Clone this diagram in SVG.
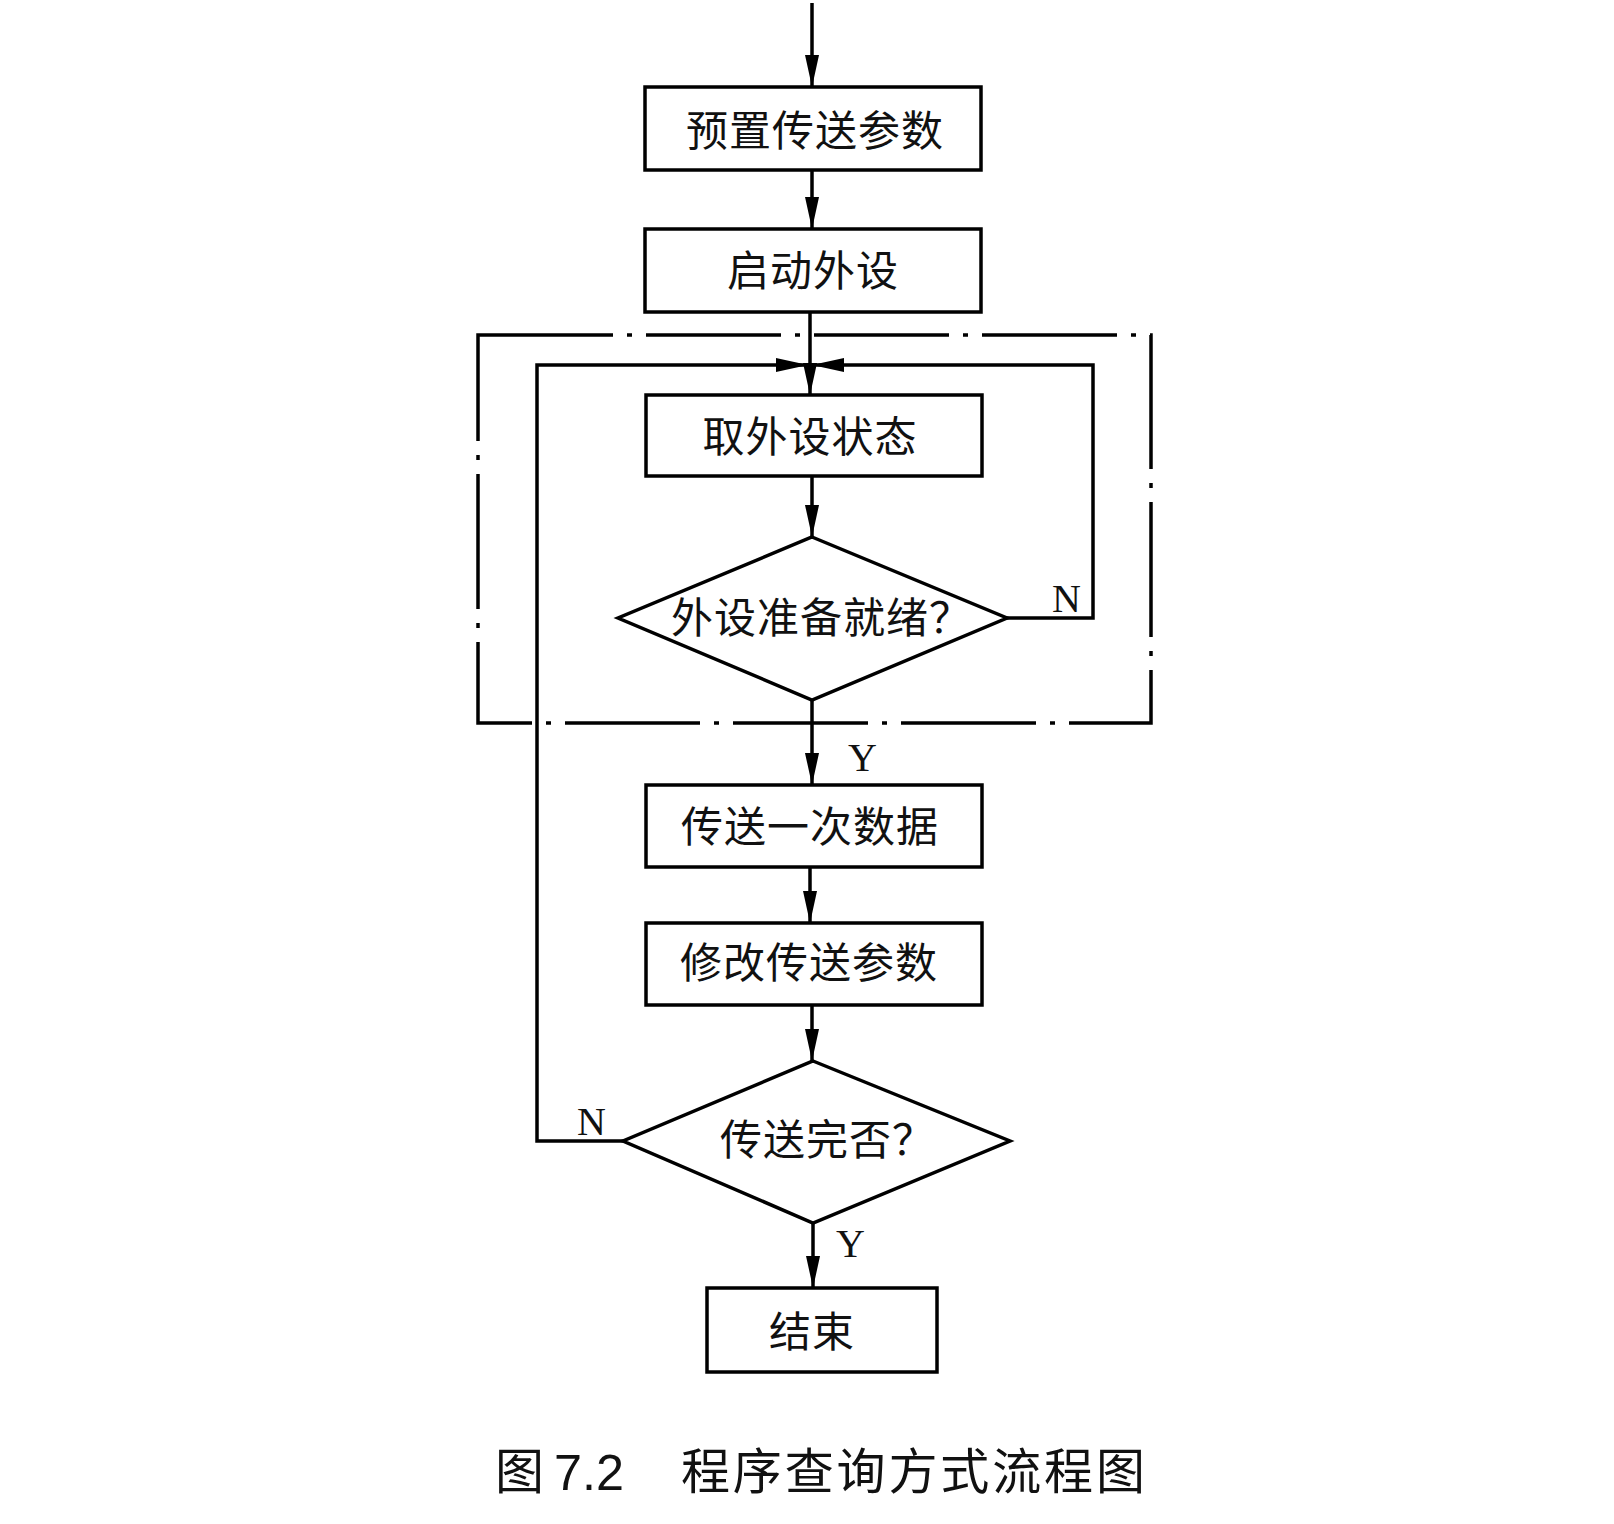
<svg xmlns="http://www.w3.org/2000/svg" width="1614" height="1524" viewBox="0 0 1614 1524">
<defs>
<marker id="ah" viewBox="0 0 32 14" refX="32" refY="7" markerWidth="32" markerHeight="14" markerUnits="userSpaceOnUse" orient="auto">
<path d="M0,0 L32,7 L0,14 Z" fill="#000"/>
</marker>
<style>
.box{fill:#fff;stroke:#000;stroke-width:3.5}
.ln{fill:none;stroke:#000;stroke-width:3.5}
.dd{fill:none;stroke:#000;stroke-width:3.5;stroke-dasharray:135 14 5 14}
.t{font-family:"Noto Sans CJK SC","Noto Sans CJK TC",sans-serif;font-size:42px;fill:#111;letter-spacing:1px}
.lbl{font-family:"Liberation Serif","DejaVu Serif",serif;font-size:40px;fill:#111}
.cap{font-family:"Noto Sans CJK SC",sans-serif;font-size:49px;fill:#111}
</style>
</defs>
<rect width="1614" height="1524" fill="#fff"/>

<g id="boundary">
<path class="dd" d="M478,335 L1151,335 L1151,723 L478,723 Z"/>
</g>

<g id="connectors">
<line class="ln" x1="812" y1="3" x2="812" y2="87" marker-end="url(#ah)"/>
<line class="ln" x1="812" y1="170" x2="812" y2="229" marker-end="url(#ah)"/>
<line class="ln" x1="810" y1="312" x2="810" y2="395" marker-end="url(#ah)"/>
<polyline class="ln" points="1007,618 1093,618 1093,365 812,365" marker-end="url(#ah)"/>
<polyline class="ln" points="623,1141 537,1141 537,365 808,365" marker-end="url(#ah)"/>
<line class="ln" x1="812" y1="476" x2="812" y2="537" marker-end="url(#ah)"/>
<line class="ln" x1="812" y1="700" x2="812" y2="785" marker-end="url(#ah)"/>
<line class="ln" x1="810" y1="867" x2="810" y2="923" marker-end="url(#ah)"/>
<line class="ln" x1="812" y1="1005" x2="812" y2="1061" marker-end="url(#ah)"/>
<line class="ln" x1="813" y1="1223" x2="813" y2="1288" marker-end="url(#ah)"/>
<text class="lbl" x="1052" y="612">N</text>
<text class="lbl" x="848" y="771">Y</text>
<text class="lbl" x="577" y="1135">N</text>
<text class="lbl" x="836" y="1257">Y</text>
</g>

<g id="n1">
<rect class="box" x="645" y="87" width="336" height="83"/>
<text class="t" x="815" y="146" text-anchor="middle">预置传送参数</text>
</g>
<g id="n2">
<rect class="box" x="645" y="229" width="336" height="83"/>
<text class="t" x="813" y="286" text-anchor="middle">启动外设</text>
</g>
<g id="n3">
<rect class="box" x="646" y="395" width="336" height="81"/>
<text class="t" x="810" y="452" text-anchor="middle">取外设状态</text>
</g>
<g id="d1">
<polygon class="box" points="812,537 1007,618 812,700 618,618"/>
<text class="t" x="671" y="633">外设准备就绪？</text>
</g>
<g id="n4">
<rect class="box" x="646" y="785" width="336" height="82"/>
<text class="t" x="810" y="842" text-anchor="middle">传送一次数据</text>
</g>
<g id="n5">
<rect class="box" x="646" y="923" width="336" height="82"/>
<text class="t" x="809" y="978" text-anchor="middle">修改传送参数</text>
</g>
<g id="d2">
<polygon class="box" points="813,1061 1010,1141 813,1223 623,1141"/>
<text class="t" x="720" y="1155">传送完否？</text>
</g>
<g id="n6">
<rect class="box" x="707" y="1288" width="230" height="84"/>
<text class="t" x="812" y="1347" text-anchor="middle">结束</text>
</g>

<g id="caption">
<text class="cap" x="495" y="1489">图</text>
<text font-family="Liberation Sans, Arial, sans-serif" font-size="50" fill="#111" x="554" y="1490" textLength="70" lengthAdjust="spacingAndGlyphs">7.2</text>
<text class="cap" x="681" y="1489" textLength="464">程序查询方式流程图</text>
</g>
</svg>
